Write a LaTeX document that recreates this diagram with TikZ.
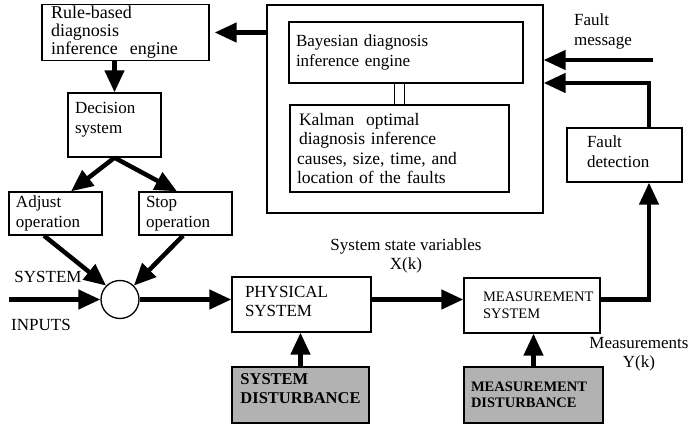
\documentclass[tikz,border=0pt]{standalone}
\usepackage{fontspec}
\setmainfont{Liberation Serif}
\usetikzlibrary{arrows.meta,positioning}
\hyphenpenalty=10000
\exhyphenpenalty=10000

\begin{document}
\begin{tikzpicture}[x=1pt,y=-1pt,>={Triangle[length=22pt,width=19pt]},
  font=\fontsize{17}{19.5}\selectfont]
\tikzstyle{box}=[draw=black,line width=1.3pt,rectangle,align=left,inner xsep=7pt,inner ysep=2pt]
\tikzstyle{grey box}=[box,fill=gray!60,font=\fontsize{16.5}{19}\selectfont\bfseries]
\tikzstyle{flow}=[->,line width=4.5pt]
\useasboundingbox (0,0) rectangle (691,425);

% diagnosis side
\node[box,minimum width=276pt,minimum height=208pt] (outer) at (405,109) {};
\node[box,text width=220pt,minimum height=61pt] (bayes) at (406,52.5)
  {Bayesian diagnosis\\inference engine};
\node[box,text width=205pt,minimum height=87pt,font=\fontsize{17.5}{19.5}\selectfont] (kalman) at (399.5,148.5)
  {\hspace*{2pt}Kalman\ \ optimal\\\hspace*{2pt}diagnosis inference\\causes, size, time, and\\location of the faults};
\node[box,text width=149pt,minimum height=55pt,inner xsep=9pt,font=\fontsize{18}{18}\selectfont] (rule) at (125.5,32.5)
  {Rule-based\\diagnosis\\inference\ \ engine};
\node[box,text width=79pt,minimum height=64pt,text depth=34pt] (dec) at (114.5,125) {Decision\\system};
\node[box,text width=79pt,minimum height=43pt] (adj) at (55.5,213.5) {Adjust\\operation};
\node[box,text width=79pt,minimum height=43pt] (stop) at (185.5,213.5) {Stop\\operation};
\node[box,inner xsep=20pt,text width=75pt,minimum height=54pt,text depth=26pt] (fault) at (624.5,155) {Fault\\detection};

% process side
\node[draw,circle,line width=1.3pt,minimum size=38pt,inner sep=0pt] (sum) at (120,299.5) {};
\node[box,inner xsep=13pt,text width=113pt,minimum height=55pt,text depth=26pt] (phys) at (301.5,304.5) {PHYSICAL\\SYSTEM};
\node[box,inner xsep=4pt,text width=128pt,minimum height=55pt,font=\fontsize{14.5}{17}\selectfont] (meas) at (532,305.5)
  {\hspace*{15pt}MEASUREMENT\\\hspace*{15pt}SYSTEM};
\node[grey box,minimum width=137pt,minimum height=56pt,text depth=12pt] (sysdist) at (300.5,395) {SYSTEM\\DISTURBANCE};
\node[grey box,text width=125pt,minimum height=56pt,font=\fontsize{14.5}{16.5}\selectfont\bfseries] (measdist) at (533.5,395)
  {MEASUREMENT\\DISTURBANCE};

% labels
\node[align=left,anchor=north west,inner sep=0pt] (msg) at (574,14) {Fault\\message};
\coordinate (msgin) at (653,60);
\node (sys) at (48,277) {SYSTEM};
\node (inp) at (41,325) {INPUTS};
\coordinate (in) at (9,299.5);
\node[align=center] (state) at (406,256) {System state variables\\X(k)};
\node[align=center] (ymeas) at (639,354) {Measurements\\Y(k)};

% connections
\draw[flow] (rule.east -| outer.west) -- ([xshift=5pt]rule.east);
\draw[flow] (dec.north |- rule.south) -- (dec.north);
\draw[flow] (dec.south) -- ([xshift=15.5pt]adj.north);
\draw[flow] (dec.south) -- ([xshift=-8.5pt]stop.north);
\draw[flow] ([xshift=-11.5pt]adj.south) -- (sum.north west);
\draw[flow] ([xshift=-2.5pt]stop.south) -- (sum.north east);
\draw[flow] (in) -- (sum.west);
\draw[flow] (sum.east) -- (sum.east -| phys.west);
\draw[flow] (sysdist.north) -- (sysdist.north |- phys.south);
\draw[flow] ([yshift=5pt]phys.east) -- ([yshift=5pt]phys.east -| meas.west);
\draw[flow] (measdist.north) -- (measdist.north |- meas.south);
\draw[flow] ([yshift=6pt]meas.east) -| ([xshift=24.5pt]fault.south);
\draw[flow] ([xshift=24.5pt]fault.north) |- ([yshift=26pt]outer.east);
\draw[flow] (msgin) -- (msgin -| outer.east);
\draw[double,double distance=9pt,line width=1.2pt] (kalman.north |- bayes.south) -- (kalman.north);
\end{tikzpicture}
\end{document}
